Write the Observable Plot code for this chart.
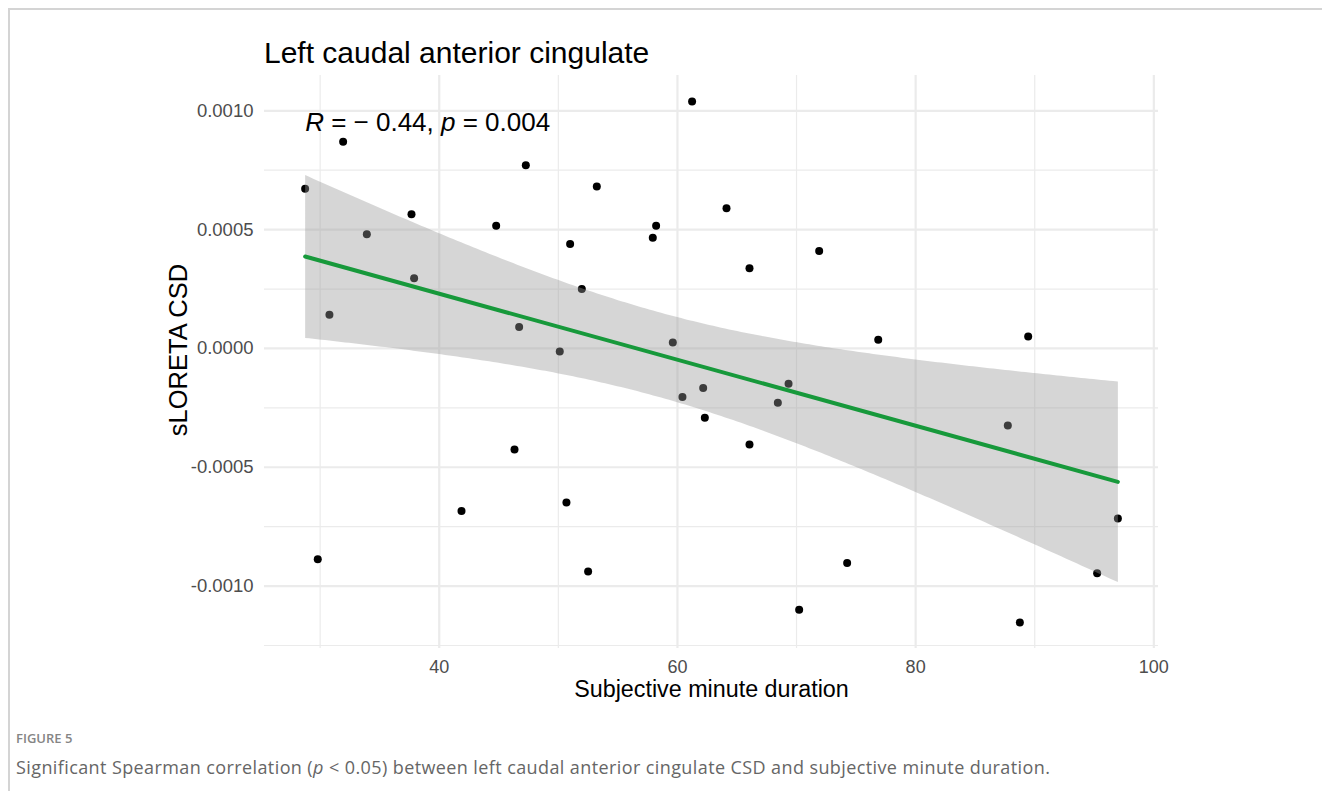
<!DOCTYPE html>
<html>
<head>
<meta charset="utf-8">
<script src="https://cdn.jsdelivr.net/npm/d3@7"></script>
<script src="https://cdn.jsdelivr.net/npm/@observablehq/plot@0.6"></script>
<style>
  html, body { margin: 0; padding: 0; background: #fff; }
  body { width: 1322px; height: 791px; overflow: hidden; position: relative; font-family: "Liberation Sans", Arial, sans-serif; }
  #frame { position: absolute; left: 8px; top: 8px; width: 1400px; height: 900px; border-top: 2px solid #d4d4d4; border-left: 2px solid #d4d4d4; box-sizing: border-box; }
  #chart { position: absolute; left: 0; top: 0; }
  #title { position: absolute; left: 264px; top: 38px; font-size: 30px; line-height: 30px; color: #000; white-space: nowrap; }
  #fig { position: absolute; left: 16px; top: 732px; font-family: "Open Sans", sans-serif; font-size: 13px; line-height: 13px; font-weight: 600; color: #858585; }
  #cap { position: absolute; left: 16px; top: 758px; font-family: "Open Sans", sans-serif; font-size: 18px; line-height: 18px; letter-spacing: 0.4px; color: #666; white-space: nowrap; }
</style>
</head>
<body>
<div id="frame"></div>
<div id="chart"></div>
<div id="title">Left caudal anterior cingulate</div>
<div id="fig">FIGURE 5</div>
<div id="cap">Significant Spearman correlation (<i>p</i> &lt; 0.05) between left caudal anterior cingulate CSD and subjective minute duration.</div>
<script>
// Data
const subjectiveMinute = [28.74, 29.80, 30.78, 31.93, 33.92, 37.67, 37.89, 41.87, 44.78, 46.32,
  46.71, 47.27, 50.12, 50.68, 50.99, 51.97, 52.50, 53.23, 57.93, 58.21,
  59.61, 60.42, 61.23, 62.16, 62.30, 64.12, 66.05, 66.05, 68.43, 69.33,
  70.22, 71.90, 74.25, 76.86, 87.74, 88.75, 89.45, 95.24, 96.98];
const sloretaCSD = [0.000672, -0.000887, 0.000142, 0.000870, 0.000481, 0.000565, 0.000295, -0.000684, 0.000516, -0.000425,
  0.000090, 0.000771, -0.000013, -0.000648, 0.000440, 0.000250, -0.000939, 0.000682, 0.000466, 0.000516,
  0.000025, -0.000204, 0.001039, -0.000166, -0.000292, 0.000590, 0.000337, -0.000404, -0.000229, -0.000149,
  -0.001100, 0.000410, -0.000903, 0.000037, -0.000324, -0.001153, 0.000050, -0.000946, -0.000716];
const xTicks = [40, 60, 80, 100];
const xMinor = [30, 50, 70, 90];
const yTicks = [-0.0010, -0.0005, 0, 0.0005, 0.0010];
const yMinor = [-0.00125, -0.00075, -0.00025, 0.00025, 0.00075];
const corLabel = "R = \u2212 0.44, p = 0.004";
const xTitle = "Subjective minute duration";
const yTitle = "sLORETA CSD";

const data = subjectiveMinute.map((x, i) => ({x, y: sloretaCSD[i]}));
const [x0, x1] = d3.extent(subjectiveMinute);
const [y0, y1] = d3.extent(sloretaCSD);
const ex = (x1 - x0) * 0.05, ey = (y1 - y0) * 0.05;

const W = 1322, H = 720;
const grid = "#ebebeb";
const plot = Plot.plot({
  width: W, height: H,
  marginLeft: 264, marginRight: 164, marginTop: 75, marginBottom: H - 648,
  style: {fontFamily: "'Liberation Sans', Arial, sans-serif", background: "transparent", overflow: "visible"},
  x: {domain: [x0 - ex, x1 + ex], ticks: xTicks, label: null},
  y: {domain: [y0 - ey, y1 + ey], ticks: yTicks, label: null},
  marks: [
    Plot.ruleX(xMinor, {stroke: grid, strokeWidth: 1.2}),
    Plot.ruleY(yMinor, {stroke: grid, strokeWidth: 1.2}),
    Plot.ruleX(xTicks, {stroke: grid, strokeWidth: 2.2}),
    Plot.ruleY(yTicks, {stroke: grid, strokeWidth: 2.2}),
    Plot.axisX(xTicks, {tickSize: 0, tickPadding: 12, fontSize: 18, fill: "#4d4d4d", label: null}),
    Plot.axisY(yTicks, {tickSize: 0, tickPadding: 11, fontSize: 18.5, fill: "#4d4d4d", label: null,
      tickFormat: d => d.toFixed(4)}),
    Plot.dot(data, {x: "x", y: "y", r: 4, fill: "#000", stroke: null}),
    Plot.linearRegressionY(data, {x: "x", y: "y", ci: 0.95, stroke: "#17993b", strokeWidth: 4,
      fill: "#999999", fillOpacity: 0.4}),
    Plot.text([{x: x0, y: y1}], {x: "x", y: "y", text: () => corLabel, textAnchor: "start",
      lineAnchor: "bottom", dy: 29, fontSize: 26, fill: "#000", className: "corlabel"}),
    Plot.text([xTitle], {frameAnchor: "bottom", text: d => d, lineAnchor: "bottom", dy: 48,
      fontSize: 23.3, fill: "#000"}),
    Plot.text([yTitle], {frameAnchor: "left", text: d => d, rotate: -90, lineAnchor: "bottom",
      textAnchor: "middle", dx: -78, dy: -12, fontSize: 25.5, fill: "#000"})
  ]
});
document.getElementById("chart").appendChild(plot);
// italic R and p in the correlation label
const t = plot.querySelector(".corlabel text");
if (t) {
  t.textContent = "";
  const parts = [["R", true], [" = \u2212 0.44, ", false], ["p", true], [" = 0.004", false]];
  for (const [s, it] of parts) {
    const ts = document.createElementNS("http://www.w3.org/2000/svg", "tspan");
    ts.textContent = s;
    if (it) ts.setAttribute("font-style", "italic");
    t.appendChild(ts);
  }
}
</script>
</body>
</html>
